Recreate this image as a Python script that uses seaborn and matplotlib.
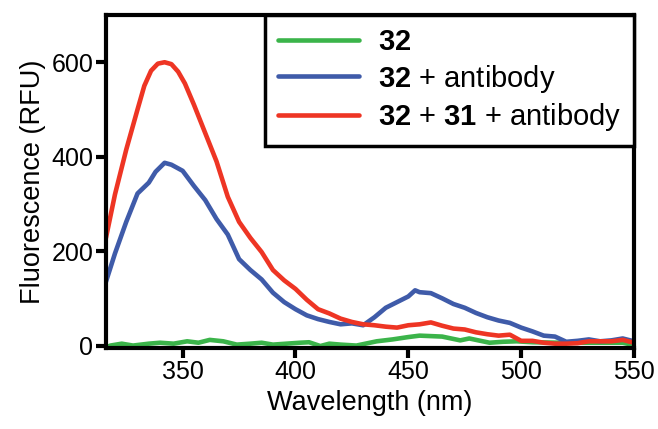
import numpy as np
import pandas as pd
import matplotlib
matplotlib.use("Agg")
import matplotlib.pyplot as plt
import seaborn as sns

# ---- data ----
labels = [r"$\mathbf{32}$", r"$\mathbf{32}$ + antibody", r"$\mathbf{32}$ + $\mathbf{31}$ + antibody"]
colors = ["#3BB44A", "#3F5BA9", "#EE3524"]

wl_green = [316, 318, 323, 328, 335, 340, 346, 352, 357, 362, 368, 374, 380, 385, 390, 396,
            402, 406, 411, 415, 420, 427, 436, 443, 450, 455, 460, 465, 473, 477, 481, 486,
            492, 498, 505, 517, 531, 545, 548, 550]
fl_green = [-4, 0, 4, 0, 4, 6, 4, 9, 6, 12, 9, 2, 4, 6, 2, 4,
            6, 7, -1, 4, 2, 0, 9, 13, 18, 21, 20, 19, 11, 15, 11, 6,
            8, 9, 7, 6, 6, 6, 3, -5]

wl_blue = [316, 320, 325, 330, 335, 338, 342, 345, 350, 355, 360, 365, 370, 375, 380, 385,
           390, 395, 400, 405, 410, 415, 420, 425, 430, 435, 440, 445, 450, 453, 455, 460,
           465, 470, 475, 480, 485, 490, 495, 500, 505, 510, 515, 520, 525, 530, 535, 540,
           545, 550]
fl_blue = [135, 195, 262, 322, 345, 368, 387, 383, 370, 338, 308, 268, 235, 183, 160, 140,
           112, 92, 77, 64, 56, 50, 45, 47, 43, 60, 80, 92, 104, 117, 113, 111,
           100, 88, 80, 69, 60, 53, 48, 38, 30, 21, 19, 8, 10, 13, 9, 11,
           15, 9]

wl_red = [316, 320, 325, 330, 333, 336, 339, 342, 345, 348, 351, 355, 360, 365, 370, 375,
          380, 385, 390, 395, 400, 405, 410, 415, 420, 425, 430, 435, 440, 445, 450, 455,
          460, 465, 470, 475, 480, 485, 490, 495, 500, 505, 510, 515, 520, 525, 530, 535,
          540, 545, 550]
fl_red = [228, 320, 415, 500, 550, 582, 597, 600, 596, 580, 555, 510, 450, 390, 315, 262,
          228, 198, 160, 138, 120, 97, 77, 68, 57, 50, 45, 43, 40, 38, 43, 45,
          49, 42, 36, 34, 28, 24, 21, 23, 10, 10, 6, 4, 4, 5, 9, 9,
          9, 12, 6]

df = pd.concat([
    pd.DataFrame({"wl": wl_green, "fl": fl_green, "series": labels[0]}),
    pd.DataFrame({"wl": wl_blue, "fl": fl_blue, "series": labels[1]}),
    pd.DataFrame({"wl": wl_red, "fl": fl_red, "series": labels[2]}),
], ignore_index=True)

# ---- style ----
sns.set_style("ticks")
plt.rcParams["font.family"] = ["Liberation Sans", "DejaVu Sans"]
plt.rcParams["mathtext.fontset"] = "custom"
plt.rcParams["mathtext.rm"] = "Liberation Sans"
plt.rcParams["mathtext.bf"] = "Liberation Sans:bold"
plt.rcParams["text.color"] = "black"
plt.rcParams["axes.labelcolor"] = "black"
plt.rcParams["xtick.color"] = "black"
plt.rcParams["ytick.color"] = "black"

fig = plt.figure(figsize=(6.58, 4.29), dpi=100)
ax = fig.add_axes([0.161, 0.189, 0.8025, 0.776])

sns.lineplot(data=df, x="wl", y="fl", hue="series", hue_order=labels,
             palette=dict(zip(labels, colors)), linewidth=3.3, sort=False,
             estimator=None, ax=ax, solid_joinstyle="round", solid_capstyle="round")

ax.set_xlim(316, 550)
ax.set_ylim(-5, 700)
ax.set_xticks([350, 400, 450, 500, 550])
ax.set_yticks([0, 200, 400, 600])
ax.set_xlabel("Wavelength (nm)", fontsize=19.5, labelpad=4)
ax.set_ylabel("Fluorescence (RFU)", fontsize=19.5, labelpad=4)
ax.tick_params(axis="both", labelsize=18, width=3, length=7, direction="out",
               color="black", labelcolor="black", pad=2)
for s in ax.spines.values():
    s.set_visible(True)
    s.set_linewidth(3)
    s.set_color("black")

leg = ax.legend(loc="upper right", borderaxespad=0, fontsize=21, frameon=True,
                fancybox=False, edgecolor="black", handlelength=2.8,
                handletextpad=0.62, labelspacing=0.22, borderpad=0.45)
leg.get_frame().set_linewidth(2.5)
leg.get_frame().set_alpha(1)
for line in leg.get_lines():
    line.set_linewidth(3.3)
for t in leg.get_texts():
    t.set_color("black")

fig.savefig("out.png", dpi=100)
